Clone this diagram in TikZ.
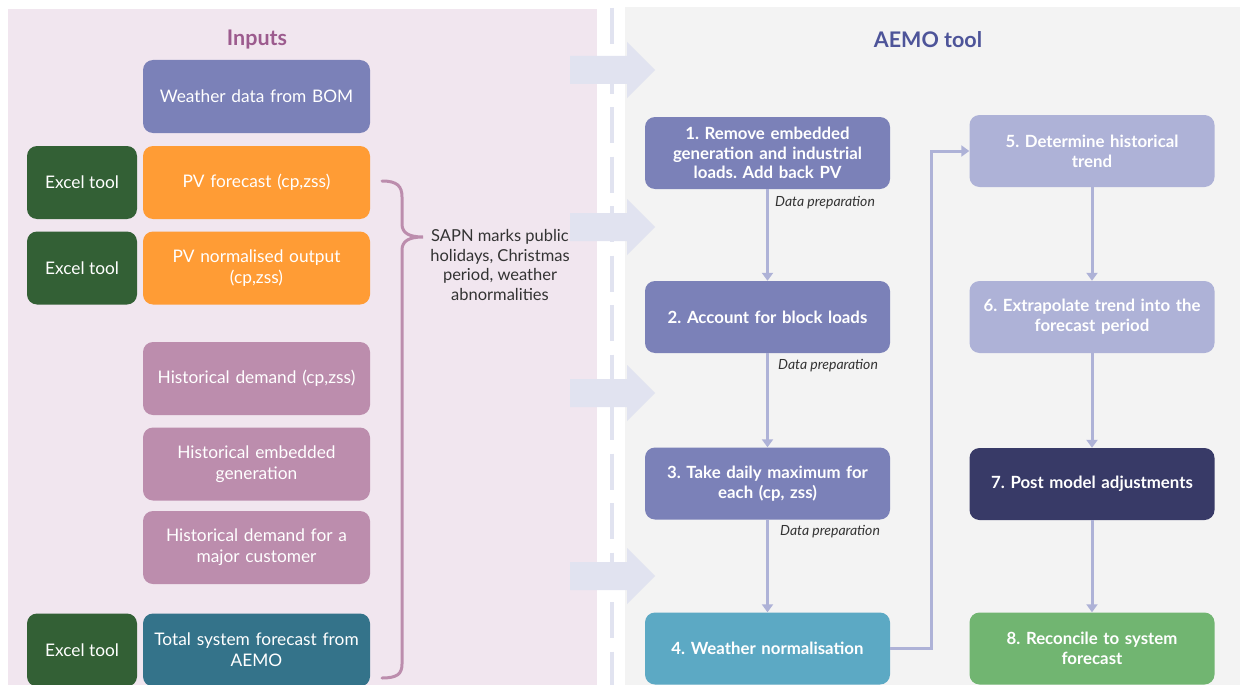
\documentclass[tikz,border=0pt]{standalone}
\usepackage{fontspec}
\setmainfont{Lato}
\frenchspacing
\usetikzlibrary{arrows.meta}
\definecolor{pinkbg}{HTML}{F1E6EF}
\definecolor{graybg}{HTML}{F3F3F3}
\definecolor{lav}{HTML}{7B81B8}
\definecolor{lavlight}{HTML}{AEB2D7}
\definecolor{arrowbg}{HTML}{E1E3F0}
\definecolor{exgreen}{HTML}{336035}
\definecolor{orangeb}{HTML}{FF9C35}
\definecolor{mauve}{HTML}{BC8DAD}
\definecolor{tealdark}{HTML}{34738A}
\definecolor{tealb}{HTML}{5CA9C4}
\definecolor{navy}{HTML}{383A67}
\definecolor{greenb}{HTML}{71B571}
\definecolor{inputscol}{HTML}{9C5B8E}
\definecolor{aemocol}{HTML}{4D5499}
\definecolor{labelcol}{HTML}{333333}
\tikzset{
  box/.style={rounded corners=10pt, inner sep=0pt, align=center, text=white,
    font=\fontsize{17.3}{21}\selectfont},
  inbox/.style={box, minimum width=227pt, minimum height=73pt, text width=220pt},
  exbox/.style={box, fill=exgreen, minimum width=110pt, minimum height=73pt},
  stepbox/.style={box, minimum width=245pt, minimum height=72pt, text width=240pt,
    font=\fontsize{16.8}{19.7}\selectfont\bfseries},
  flow/.style={draw=lavlight, line width=3pt, -{Triangle[width=11pt,length=8pt]}},
  prep/.style={font=\fontsize{14}{16}\selectfont\itshape, text=labelcol, anchor=west, inner sep=0pt},
  title/.style={font=\fontsize{21.5}{26}\selectfont\bfseries, inner sep=0pt},
  bigarrow/.style={fill=arrowbg}
}
\newcommand{\blockarrow}[1]{%
  \fill[bigarrow] (570,#1-14) -- (627,#1-14) -- (627,#1-28) -- (655,#1) -- (627,#1+28) -- (627,#1+14) -- (570,#1+14) -- cycle;}
\begin{document}
\begin{tikzpicture}[x=1pt,y=-1pt]
\useasboundingbox (0,0) rectangle (1240,685);
\fill[white] (0,0) rectangle (1240,685);
\fill[pinkbg] (8,9) rectangle (597,685);
\fill[graybg] (625,7) rectangle (1240,685);
\draw[arrowbg, line width=4pt, dash pattern=on 36pt off 13.5pt] (612,8) -- (612,685);
\blockarrow{70}
\blockarrow{227}
\blockarrow{393}
\blockarrow{576}

\node[title, text=inputscol] (tin) at (257,40) {Inputs};
\node[title, text=aemocol] (taemo) at (928,40) {AEMO tool};

% inputs
\node[inbox, fill=lav] (bom) at (256.5,96.5) {Weather data from BOM};
\node[exbox] (ex1) at (82,182.5) {Excel tool};
\node[inbox, fill=orangeb] (pvf) at (256.5,182.5) {PV forecast (cp,zss)};
\node[exbox] (ex2) at (82,268) {Excel tool};
\node[inbox, fill=orangeb] (pvn) at (256.5,268) {PV normalised output\\(cp,zss)};
\node[inbox, fill=mauve] (hd) at (256.5,378.5) {Historical demand (cp,zss)};
\node[inbox, fill=mauve] (heg) at (256.5,464) {Historical embedded\\generation};
\node[inbox, fill=mauve] (hmc) at (256.5,547.5) {Historical demand for a\\major customer};
\node[exbox] (ex3) at (82,650) {Excel tool};
\node[inbox, fill=tealdark] (tsf) at (256.5,650) {Total system forecast from\\AEMO};

% brace
\draw[mauve, line width=3pt, line cap=round]
  (382,181) .. controls (397,181) and (402,186) .. (402,197) -- (402,224)
  .. controls (402,233) and (409,237) .. (423,237)
  .. controls (409,237) and (402,241) .. (402,250) -- (402,664)
  .. controls (402,674) and (397,678) .. (382,678);
\node[align=center, text=labelcol, font=\fontsize{16.5}{19.5}\selectfont, inner sep=0pt] (sapn) at (500,265)
  {SAPN marks public\\holidays, Christmas\\period, weather\\abnormalities};

% steps
\node[stepbox, fill=lav] (s1) at (767.5,153) {1. Remove embedded\\generation and industrial\\loads. Add back PV};
\node[stepbox, fill=lav] (s2) at (767.5,317) {2. Account for block loads};
\node[stepbox, fill=lav] (s3) at (767.5,483.5) {3. Take daily maximum for\\each (cp, zss)};
\node[stepbox, fill=tealb] (s4) at (767.5,648.5) {4. Weather normalisation};
\node[stepbox, fill=lavlight] (s5) at (1092,151) {5. Determine historical\\trend};
\node[stepbox, fill=lavlight] (s6) at (1092,317) {6. Extrapolate trend into the\\forecast period};
\node[stepbox, fill=navy] (s7) at (1092,484) {7. Post model adjustments};
\node[stepbox, fill=greenb] (s8) at (1092,648.5) {8. Reconcile to system\\forecast};

\draw[flow] (s1) -- (s2);
\draw[flow] (s2) -- (s3);
\draw[flow] (s3) -- (s4);
\draw[flow] (s4.east) -- ++(41,0) |- (s5.west);
\draw[flow] (s5) -- (s6);
\draw[flow] (s6) -- (s7);
\draw[flow] (s7) -- (s8);

\node[prep] (p1) at (775,203) {Data preparation};
\node[prep] (p2) at (778,366) {Data preparation};
\node[prep] (p3) at (780,532) {Data preparation};
\end{tikzpicture}
\end{document}
